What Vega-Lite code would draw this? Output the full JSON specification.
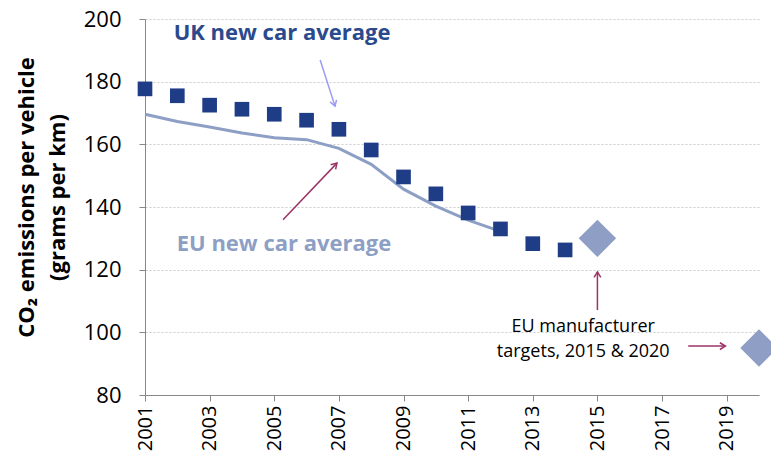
{
  "$schema": "https://vega.github.io/schema/vega-lite/v6.json",
  "width": 614,
  "height": 376,
  "autosize": {"type": "none"},
  "padding": {"left": 145, "top": 19, "right": 12, "bottom": 66},
  "background": "white",
  "config": {
    "view": {"stroke": null},
    "font": "Open Sans"
  },
  "datasets": {
    "uk": [
      {"year": 2001, "value": 177.7}, {"year": 2002, "value": 175.5}, {"year": 2003, "value": 172.5},
      {"year": 2004, "value": 171.2}, {"year": 2005, "value": 169.6}, {"year": 2006, "value": 167.7},
      {"year": 2007, "value": 164.8}, {"year": 2008, "value": 158.2}, {"year": 2009, "value": 149.6},
      {"year": 2010, "value": 144.2}, {"year": 2011, "value": 138.1}, {"year": 2012, "value": 133.0},
      {"year": 2013, "value": 128.3}, {"year": 2014, "value": 126.3}
    ],
    "eu": [
      {"year": 2001, "value": 169.6}, {"year": 2002, "value": 167.3}, {"year": 2003, "value": 165.5},
      {"year": 2004, "value": 163.6}, {"year": 2005, "value": 162.1}, {"year": 2006, "value": 161.5},
      {"year": 2007, "value": 158.7}, {"year": 2008, "value": 153.6}, {"year": 2009, "value": 145.7},
      {"year": 2010, "value": 140.3}, {"year": 2011, "value": 135.8}, {"year": 2012, "value": 132.2}
    ],
    "targets": [{"year": 2015, "value": 130}, {"year": 2020, "value": 95}],
    "arrows": [
      {"arrow": "uk", "x1": 2006.42, "y1": 186.9, "x2": 2006.88, "y2": 172.2, "angle": 162},
      {"arrow": "eu", "x1": 2005.27, "y1": 135.9, "x2": 2006.94, "y2": 154.0, "angle": 43.5},
      {"arrow": "t1", "x1": 2015.0, "y1": 107.1, "x2": 2015.0, "y2": 119.3, "angle": 0},
      {"arrow": "t2", "x1": 2017.81, "y1": 95.6, "x2": 2018.96, "y2": 95.6, "angle": 90}
    ],
    "labels": [
      {"kind": "uk", "x": 2005.24, "y": 195.5, "text": "UK new car average"},
      {"kind": "eu", "x": 2005.3, "y": 128.2, "text": "EU new car average"}
    ],
    "note": [
      {"x": 2014.56, "y": 101.8, "text": "EU manufacturer"},
      {"x": 2014.56, "y": 93.8, "text": "targets, 2015 & 2020"}
    ]
  },
  "resolve": {"scale": {"color": "independent"}},
  "layer": [
    {
      "data": {"name": "eu"},
      "mark": {"type": "line", "color": "#8E9FC5", "strokeWidth": 3},
      "encoding": {
        "x": {
          "field": "year", "type": "quantitative",
          "scale": {"domain": [2001, 2020], "nice": false, "zero": false},
          "axis": {
            "title": null,
            "values": [2001,2002,2003,2004,2005,2006,2007,2008,2009,2010,2011,2012,2013,2014,2015,2016,2017,2018,2019,2020],
            "labelExpr": "datum.value % 2 == 1 ? datum.value : ''",
            "labelAngle": -90,
            "labelFontSize": 20,
            "labelColor": "#000",
            "labelPadding": 4,
            "labelFont": "Open Sans",
            "grid": false,
            "domainColor": "#888",
            "tickColor": "#888",
            "tickSize": 6,
            "labelFlush": false,
            "labelOverlap": false
          }
        },
        "y": {
          "field": "value", "type": "quantitative",
          "scale": {"domain": [80, 200], "nice": false, "zero": false},
          "axis": {
            "values": [80, 100, 120, 140, 160, 180, 200],
            "title": ["CO₂ emissions per vehicle", "(grams per km)"],
            "titleFontSize": 22,
            "titleFontWeight": "bold",
            "titleColor": "#000",
            "titleFont": "Open Sans",
            "titlePadding": 14,
            "titleLineHeight": 31,
            "titleY": 178,
            "labelFontSize": 22,
            "labelColor": "#000",
            "labelPadding": 18,
            "labelFont": "Open Sans",
            "grid": true,
            "gridDash": [2, 2],
            "gridColor": "#cccccc",
            "domainColor": "#888",
            "tickColor": "#888",
            "tickSize": 6
          }
        }
      }
    },
    {
      "data": {"name": "uk"},
      "mark": {"type": "point", "shape": "square", "filled": true, "size": 215, "color": "#1F3C86", "opacity": 1},
      "encoding": {
        "x": {"field": "year", "type": "quantitative"},
        "y": {"field": "value", "type": "quantitative"}
      }
    },
    {
      "data": {"name": "targets"},
      "mark": {"type": "point", "shape": "diamond", "filled": true, "size": 1400, "color": "#8E9EC4", "opacity": 1},
      "encoding": {
        "x": {"field": "year", "type": "quantitative"},
        "y": {"field": "value", "type": "quantitative"}
      }
    },
    {
      "data": {"name": "arrows"},
      "mark": {"type": "rule", "strokeWidth": 1.5},
      "encoding": {
        "x": {"field": "x1", "type": "quantitative"},
        "y": {"field": "y1", "type": "quantitative"},
        "x2": {"field": "x2"},
        "y2": {"field": "y2"},
        "color": {
          "field": "arrow", "type": "nominal", "legend": null,
          "scale": {"domain": ["uk", "eu", "t1", "t2"], "range": ["#9A9BF5", "#9B3366", "#9B3366", "#9B3366"]}
        }
      }
    },
    {
      "data": {"name": "arrows"},
      "mark": {"type": "point", "shape": "M -0.55 0.9 L 0 0 L 0.55 0.9", "filled": false, "strokeWidth": 1.5, "size": 150, "opacity": 1},
      "encoding": {
        "x": {"field": "x2", "type": "quantitative"},
        "y": {"field": "y2", "type": "quantitative"},
        "angle": {"field": "angle", "type": "quantitative", "scale": null},
        "color": {
          "field": "arrow", "type": "nominal", "legend": null,
          "scale": {"domain": ["uk", "eu", "t1", "t2"], "range": ["#9A9BF5", "#9B3366", "#9B3366", "#9B3366"]}
        }
      }
    },
    {
      "data": {"name": "labels"},
      "mark": {"type": "text", "fontSize": 22, "fontWeight": "bold", "font": "Open Sans", "align": "center", "baseline": "middle"},
      "encoding": {
        "x": {"field": "x", "type": "quantitative"},
        "y": {"field": "y", "type": "quantitative"},
        "text": {"field": "text"},
        "color": {
          "field": "kind", "type": "nominal", "legend": null,
          "scale": {"domain": ["uk", "eu"], "range": ["#2B4A8E", "#8E9FC5"]}
        }
      }
    },
    {
      "data": {"name": "note"},
      "mark": {"type": "text", "fontSize": 18, "font": "Open Sans", "align": "center", "baseline": "middle", "color": "#000"},
      "encoding": {
        "x": {"field": "x", "type": "quantitative"},
        "y": {"field": "y", "type": "quantitative"},
        "text": {"field": "text"}
      }
    }
  ]
}
